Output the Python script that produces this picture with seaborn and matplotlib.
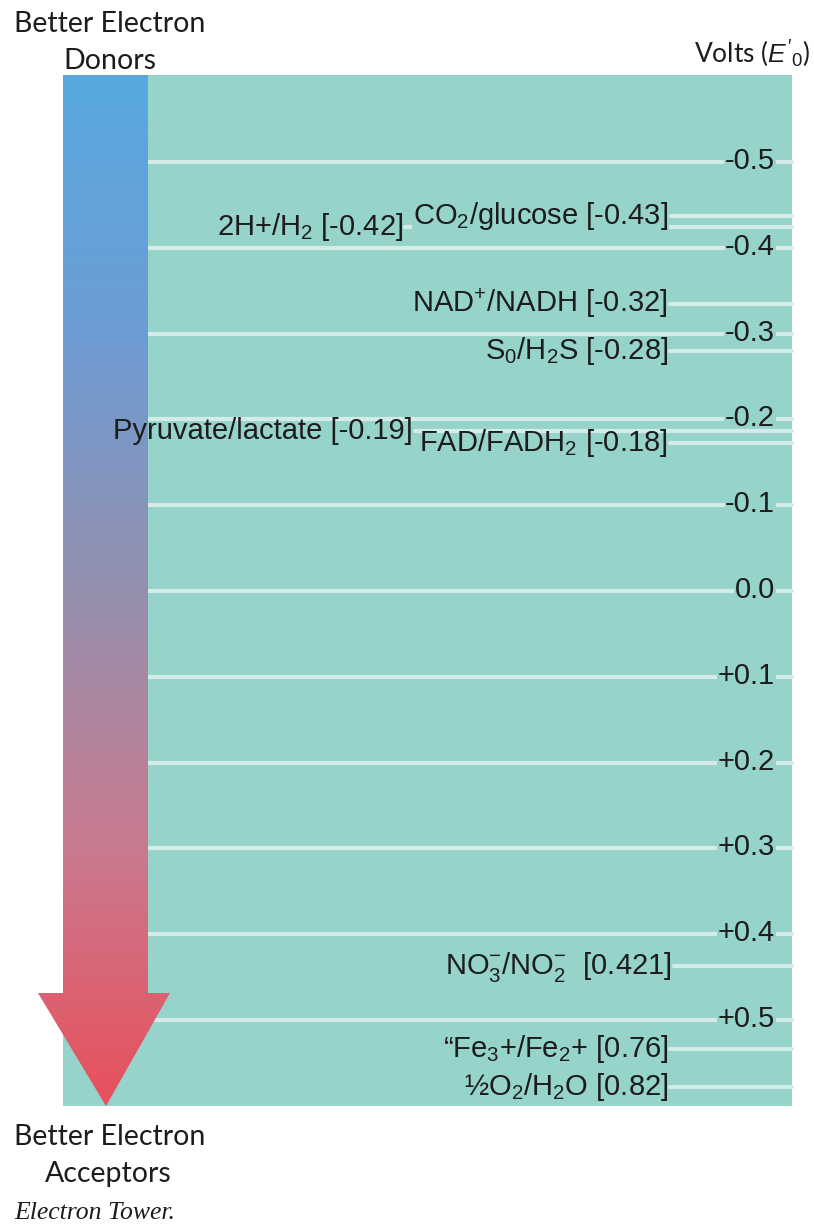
import numpy as np
import pandas as pd
import matplotlib
matplotlib.use("Agg")
import matplotlib.pyplot as plt
import seaborn as sns
from matplotlib.colors import LinearSegmentedColormap
from matplotlib.patches import Rectangle, Polygon


# tower scale (volts)
tick_values = [-0.5, -0.4, -0.3, -0.2, -0.1, 0.0, 0.1, 0.2, 0.3, 0.4, 0.5]
tick_labels = ["-0.5", "-0.4", "-0.3", "-0.2", "-0.1", "0.0",
               "+0.1", "+0.2", "+0.3", "+0.4", "+0.5"]

# redox couples: name, stated E0' and where the line sits on the tower
couple_names = [r"2H+/H$_2$", r"CO$_2$/glucose", r"NAD$^{+}$/NADH", r"S$_0$/H$_2$S",
                "Pyruvate/lactate", r"FAD/FADH$_2$", r"NO$_3^{-}$/NO$_2^{-}$ ",
                r"“Fe$_3$+/Fe$_2$+", r"½O$_2$/H$_2$O"]
couple_e0 = ["-0.42", "-0.43", "-0.32", "-0.28", "-0.19", "-0.18", "0.421", "0.76", "0.82"]
couple_level = [-0.424, -0.437, -0.335, -0.280, -0.186, -0.173, 0.437, 0.534, 0.578]

# colours
TEAL = "#96D4CB"
LINE = "#D4ECE8"
TEXT = "#1c1c1c"
arrow_colors = ["#58A8E0", "#6E9CD4", "#9490AE", "#C97A8F", "#E8505C"]


W, H = 814, 1226
PX0, PXV = 591, 858          # pixel row of 0 V, pixels per volt


def v_of(py):
    return (py - PX0) / PXV


sns.set_theme(style="white")
plt.rcParams["font.family"] = ["Liberation Sans", "DejaVu Sans"]
plt.rcParams["mathtext.fontset"] = "custom"
plt.rcParams["mathtext.rm"] = "Liberation Sans"
plt.rcParams["mathtext.it"] = "Liberation Sans:italic"
plt.rcParams["mathtext.bf"] = "Liberation Sans:bold"

fig = plt.figure(figsize=(W / 100, H / 100), dpi=100)
ax = fig.add_axes([0, 0, 1, 1])

TOP, BOT = v_of(75), v_of(1106)
LEFT, RIGHT = 63, 792
SHAFT_R = 148

ax.add_patch(Rectangle((LEFT, TOP), RIGHT - LEFT, BOT - TOP,
                       facecolor=TEAL, edgecolor="none", zorder=0))


# tick lines
label_right = [403, 668, 668, 668, 413, 668, 672, 668, 668]

tick_df = pd.DataFrame({
    "x": [SHAFT_R, RIGHT] * len(tick_values),
    "volts": np.repeat(tick_values, 2),
    "id": np.repeat(tick_labels, 2),
})
sns.lineplot(data=tick_df, x="x", y="volts", units="id", estimator=None,
             sort=False, color=LINE, linewidth=3, ax=ax, zorder=1, legend=False)

# couple lines, starting just right of their label
couple_df = pd.DataFrame({
    "x": np.ravel([[xr + 2, RIGHT] for xr in label_right]),
    "volts": np.repeat(couple_level, 2),
    "id": np.repeat(np.arange(len(couple_level)), 2),
})
sns.lineplot(data=couple_df, x="x", y="volts", units="id", estimator=None,
             sort=False, color=LINE, linewidth=3, ax=ax, zorder=3, legend=False)

ax.set_xlim(0, W)
ax.set_ylim(v_of(H), v_of(0))
ax.set_axis_off()


# gradient arrow
head_base = v_of(993)
arrow = Polygon([(LEFT, TOP), (SHAFT_R, TOP), (SHAFT_R, head_base), (170, head_base),
                 (106, BOT), (38, head_base), (LEFT, head_base)],
                closed=True, facecolor="none", edgecolor="none")
ax.add_patch(arrow)
cmap = LinearSegmentedColormap.from_list("tower", arrow_colors)
grad = np.linspace(0, 1, 256).reshape(-1, 1)
im = ax.imshow(grad, cmap=cmap, extent=[38, 170, BOT, TOP], aspect="auto",
               origin="upper", zorder=1.5, interpolation="bilinear")
im.set_clip_path(arrow)


box = dict(boxstyle="square,pad=0.02", facecolor=TEAL, edgecolor="none")

for v, lab in zip(tick_values, tick_labels):
    ax.annotate(lab, xy=(775, v), xytext=(0, -7), textcoords="offset pixels",
                ha="right", va="baseline", fontsize=21, color=TEXT,
                bbox=box, zorder=2)

# only the CO2 label sits over another couple's line
needs_box = [False, True, False, False, False, False, False, False, False]
for name, e0, v, xr, nb in zip(couple_names, couple_e0, couple_level, label_right, needs_box):
    ax.annotate(f"{name} [{e0}]", xy=(xr, v), xytext=(0, -8),
                textcoords="offset pixels", ha="right", va="baseline",
                fontsize=21, color=TEXT, bbox=box if nb else None, zorder=4)


# header / footer
hdr = ["Lato", "DejaVu Sans"]


def ftext(px, py, s, **kw):
    fig.text(px / W, 1 - py / H, s, va="baseline", color=TEXT, **kw)


ftext(14, 32, "Better Electron", family=hdr, fontsize=20.5)
ftext(63, 69, "Donors", family=hdr, fontsize=20.5)
ftext(810, 63, r"Volts ($E'_{\mathit{0}}$)", family=hdr, fontsize=19, ha="right")
ftext(14, 1145, "Better Electron", family=hdr, fontsize=20.5)
ftext(45, 1182, "Acceptors", family=hdr, fontsize=20.5)
ftext(14, 1219, "Electron Tower.", family=["Liberation Serif", "DejaVu Serif"],
      style="italic", fontsize=18.5)

fig.savefig("out.png", dpi=100, facecolor="white")
